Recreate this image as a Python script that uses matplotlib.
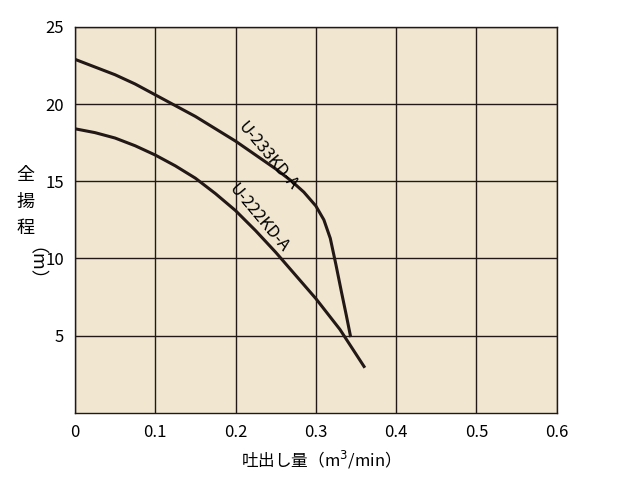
import matplotlib
matplotlib.use("Agg")
import matplotlib.pyplot as plt

plt.rcParams['font.family'] = ['Noto Sans CJK JP', 'DejaVu Sans']

x233 = [0, 0.025, 0.05, 0.075, 0.1, 0.125, 0.15, 0.175, 0.2, 0.225, 0.25, 0.27, 0.285, 0.3, 0.31, 0.318, 0.325, 0.332, 0.338, 0.343]
y233 = [22.9, 22.4, 21.9, 21.3, 20.6, 19.9, 19.2, 18.4, 17.6, 16.7, 15.8, 15.0, 14.3, 13.4, 12.5, 11.3, 9.6, 7.8, 6.3, 5.0]
x222 = [0, 0.025, 0.05, 0.075, 0.1, 0.125, 0.15, 0.175, 0.2, 0.225, 0.25, 0.275, 0.3, 0.33, 0.36]
y222 = [18.4, 18.15, 17.8, 17.3, 16.7, 16.0, 15.2, 14.2, 13.1, 11.8, 10.4, 8.9, 7.4, 5.4, 3.0]
xticks = [0, 0.1, 0.2, 0.3, 0.4, 0.5, 0.6]
yticks = [5, 10, 15, 20, 25]

fig = plt.figure(figsize=(6.4, 4.8), dpi=100)
ax = fig.add_axes([0.117, 0.140, 0.753, 0.804])
ax.set_facecolor('#f1e7d1')
ax.plot(x233, y233, color='#231815', lw=2.2, solid_joinstyle='round')
ax.plot(x222, y222, color='#231815', lw=2.2, solid_joinstyle='round')
ax.set_xlim(0, 0.6); ax.set_ylim(0, 25)
ax.set_xticks(xticks); ax.set_yticks(yticks)
ax.set_xticklabels(['0', '0.1', '0.2', '0.3', '0.4', '0.5', '0.6'], fontsize=12)
ax.set_yticklabels([str(v) for v in yticks], fontsize=12)
ax.grid(True, color='#231815', lw=1)
ax.tick_params(length=0, pad=8)
for s in ax.spines.values():
    s.set_color('#231815'); s.set_linewidth(1)
ax.text(0.24, 16.6, 'U-233KD-A', rotation=-50, fontsize=12, ha='center', va='center')
ax.text(0.229, 12.6, 'U-222KD-A', rotation=-50, fontsize=12, ha='center', va='center')
ax.set_xlabel('吐出し量（m$^3$/min）', fontsize=12, labelpad=6)
fig.text(0.04, 0.58, '全\n揚\n程', fontsize=13, ha='center', va='center', linespacing=1.6)
fig.text(0.04, 0.43, '（m）', fontsize=13, ha='center', va='center', rotation=-90)
fig.savefig('out.png', dpi=100)
